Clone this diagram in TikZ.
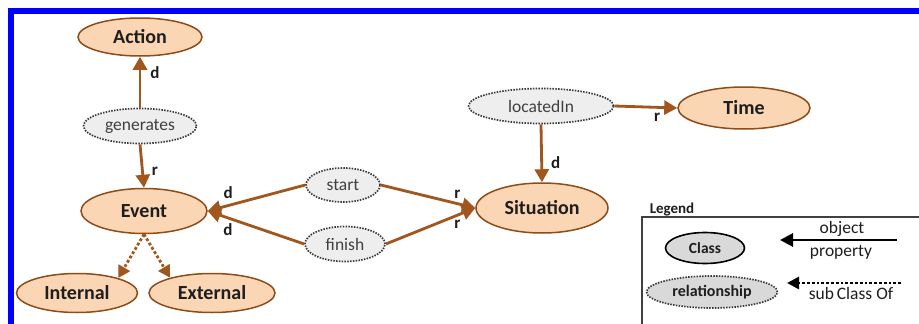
\documentclass[tikz,border=0pt]{standalone}
\usepackage{fontspec}
\setmainfont{Carlito}
\usetikzlibrary{shapes.geometric,arrows.meta}
\definecolor{clsfill}{HTML}{FAD6B4}
\definecolor{clsborder}{HTML}{8E4C18}
\definecolor{arrowc}{HTML}{A0561C}
\definecolor{relfill}{HTML}{EEEEEE}
\definecolor{relborder}{HTML}{3A3A3A}
\definecolor{txt}{HTML}{1E1E1E}
\definecolor{reltxt}{HTML}{404040}
\definecolor{framec}{HTML}{0000FF}
\definecolor{legfill}{HTML}{D9D9D9}
\tikzset{
  cls/.style={ellipse, draw=clsborder, fill=clsfill, line width=1.5pt, inner sep=0pt,
    text=txt, font=\bfseries\fontsize{20}{24}\selectfont},
  rel/.style={ellipse, draw=relborder, fill=relfill, line width=1.7pt, inner sep=0pt,
    dash pattern=on 1.5pt off 1.3pt, text=reltxt, font=\fontsize{17.5}{21}\selectfont},
  prop/.style={draw=arrowc, line width=2.8pt, -{Triangle[length=13pt,width=14pt]}},
  subc/.style={draw=arrowc, line width=2.8pt, dash pattern=on 2.8pt off 2.2pt,
    -{Triangle[length=12pt,width=13pt]}},
  lbl/.style={text=txt, font=\bfseries\fontsize{17}{20}\selectfont, inner sep=1pt},
  legtxt/.style={text=txt, font=\fontsize{17.5}{20}\selectfont, inner sep=0pt},
}
\begin{document}
\begin{tikzpicture}[x=1pt,y=-1pt]
\useasboundingbox (0,0) rectangle (919,324);
\fill[white] (0,0) rectangle (919,324);
% blue frame
\fill[framec] (7.5,8.3) rectangle (919,14);
\fill[framec] (7.5,8.3) rectangle (13.5,324);

% classes
\node[cls, minimum width=124pt, minimum height=38pt] (action) at (140,37) {Action};
\node[cls, minimum width=126pt, minimum height=45pt] (event) at (144,211) {Event};
\node[cls, minimum width=121pt, minimum height=39pt] (internal) at (77,293) {Internal};
\node[cls, minimum width=126pt, minimum height=39pt] (external) at (212,293) {External};
\node[cls, minimum width=132pt, minimum height=50pt] (situation) at (542,208) {Situation};
\node[cls, minimum width=132pt, minimum height=42pt] (time) at (744,108) {Time};

% relationships
\node[rel, minimum width=113pt, minimum height=35pt] (generates) at (140,126) {generates};
\node[rel, minimum width=74pt, minimum height=34pt] (start) at (343,185) {start};
\node[rel, minimum width=80pt, minimum height=35pt] (finish) at (345,244) {finish};
\node[rel, minimum width=145pt, minimum height=35pt] (locatedin) at (541,106) {locatedIn};

% object properties
\draw[prop] (generates) -- (action) node[lbl, pos=0.68, right=8pt] {d};
\draw[prop] (generates.south) -- (event.north) node[lbl, pos=0.62, right=7pt] {r};
\draw[prop] (start.west) -- (event.east) node[lbl, pos=0.79, above=5pt] {d};
\draw[prop] (finish.west) -- (event.east) node[lbl, pos=0.79, below=3pt] {d};
\draw[prop] (start.east) -- (situation.west) node[lbl, pos=0.81, above=3pt] {r};
\draw[prop] (finish.east) -- (situation.west) node[lbl, pos=0.8, below=2pt] {r};
\draw[prop] (locatedin.east) -- (time.west) node[lbl, pos=0.68, below=3pt] {r};
\draw[prop] (locatedin.south) -- (situation.north) node[lbl, pos=0.66, right=7pt] {d};

% subclass
\draw[subc] (event.south) -- (internal.20);
\draw[subc] (event.south) -- (external.160);

% legend
\node[text=txt, font=\bfseries\fontsize{15}{18}\selectfont, inner sep=0pt] (legtitle) at (672,210) {Legend};
\draw[draw=black!75, line width=1.3pt] (925,217) -- (642,217) -- (642,330);
\node[ellipse, draw=black, fill=legfill, line width=1.6pt, inner sep=0pt,
  minimum width=79pt, minimum height=31pt, text=txt,
  font=\bfseries\fontsize{15.5}{18}\selectfont] (legclass) at (705,248) {Class};
\node[ellipse, draw=relborder, fill=legfill, line width=1.7pt, inner sep=0pt,
  dash pattern=on 1.5pt off 1.3pt, minimum width=131pt, minimum height=32pt, text=txt,
  font=\bfseries\fontsize{16}{19}\selectfont] (legrel) at (712,292) {relationship};
\coordinate (op1) at (897,240);
\coordinate (op2) at (780,240);
\draw[black, line width=2.8pt, -{Triangle[length=13pt,width=13pt]}] (op1) -- (op2);
\node[legtxt] (objt) at (842,229) {object};
\node[legtxt] (propt) at (841,252) {property};
\coordinate (sc1) at (901,283);
\coordinate (sc2) at (787,283);
\draw[black, line width=2.8pt, dash pattern=on 2.8pt off 2pt, -{Triangle[length=12pt,width=12pt]}] (sc1) -- (sc2);
\node[legtxt] (subt) at (851,293) {sub\,Class Of};
\end{tikzpicture}
\end{document}
